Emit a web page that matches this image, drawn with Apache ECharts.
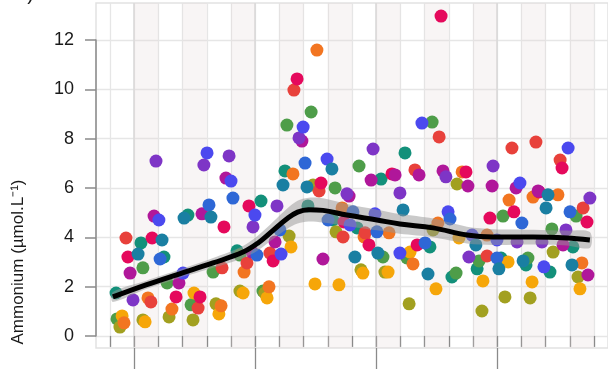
<!DOCTYPE html>
<html><head><meta charset="utf-8">
<script src="https://cdn.jsdelivr.net/npm/echarts@6/dist/echarts.min.js"></script>
<style>html,body{margin:0;padding:0;background:#fff}#c{width:608px;height:373px}</style>
</head><body><div id="c"></div>
<script>
// ---- data (x in sampling-interval units, y in µmol.L-1) ----
const red = [[0.66,3.97],[1.69,1.38],[3.64,1.13],[4.63,2.76],[5.66,2.96],[6.61,3.36],[7.60,9.97],[8.64,5.88],[9.63,4.01],[10.54,4.18],[12.60,6.73],[13.60,8.07],[15.58,3.24],[16.61,7.62],[17.60,7.86],[18.60,7.13],[19.55,5.19]];
const crimson = [[0.74,3.20],[1.74,3.97],[2.73,1.58],[3.72,1.58],[4.71,4.42],[5.74,5.27],[6.74,3.04],[7.73,10.42],[8.72,6.20],[9.67,4.62],[10.70,3.69],[11.65,6.57],[12.69,3.69],[13.68,12.97],[14.71,6.65],[15.70,4.78],[16.69,5.03],[17.73,5.84],[18.68,6.81],[19.71,4.62]];
const magenta = [[0.83,2.55],[1.82,4.86],[2.85,2.15],[3.80,4.95],[4.79,6.40],[5.87,3.40],[6.82,3.81],[7.93,7.90],[8.80,3.12],[9.88,5.67],[10.79,6.32],[11.78,6.53],[12.77,6.53],[13.76,6.69],[14.79,6.08],[15.79,6.08],[16.78,6.00],[17.69,5.88],[18.72,3.69],[19.75,2.47]];
const purple = [[0.95,1.46],[1.90,7.09],[3.88,6.93],[4.92,7.30],[5.91,4.42],[6.90,5.27],[7.81,8.03],[9.79,5.76],[10.87,7.58],[11.98,5.80],[13.88,6.45],[14.83,3.20],[15.83,6.89],[16.82,3.81],[17.85,3.81],[18.84,4.30],[19.83,5.59]];
const orange = [[0.58,0.53],[1.57,1.54],[2.56,1.09],[4.59,1.22],[5.54,2.59],[6.57,1.99],[7.56,6.57],[8.55,11.59],[9.59,5.19],[10.50,4.01],[11.53,4.18],[12.52,2.92],[13.55,4.58],[14.55,6.65],[15.58,4.09],[16.49,5.51],[17.48,5.63],[18.51,5.72],[19.50,2.96]];
const amber = [[0.50,0.81],[1.45,0.57],[3.47,1.74],[4.50,0.89],[5.50,1.74],[6.49,1.54],[7.48,3.61],[8.47,2.11],[9.46,2.07],[10.45,2.55],[11.49,2.59],[12.40,3.40],[13.47,1.91],[14.42,3.97],[15.41,2.23],[16.45,3.00],[17.44,2.19],[19.42,1.91]];
const olive = [[0.41,0.36],[1.36,0.65],[2.44,0.77],[3.43,0.65],[4.38,1.30],[5.37,1.82],[6.40,1.74],[7.40,4.05],[8.39,6.12],[9.34,4.22],[10.37,2.68],[11.36,2.59],[12.36,1.30],[13.35,4.30],[14.34,6.16],[15.37,1.01],[16.32,1.58],[17.36,1.54],[18.31,3.40],[19.34,2.39]];
const green = [[0.29,0.69],[1.36,2.76],[2.36,2.15],[3.35,1.26],[4.26,2.59],[5.37,3.28],[6.32,1.82],[7.31,8.55],[8.31,9.08],[9.30,6.00],[10.29,6.89],[11.28,3.20],[12.27,3.16],[13.31,8.67],[14.30,2.55],[15.25,3.04],[16.24,4.86],[17.27,3.16],[18.26,4.34],[19.26,4.86]];
const tealGreen = [[0.25,1.74],[1.28,3.77],[2.23,3.20],[3.22,4.90],[5.25,3.45],[6.24,5.47],[7.23,6.69],[8.18,5.27],[9.21,4.70],[10.21,4.38],[11.20,6.36],[12.19,7.42],[13.22,3.61],[14.13,2.39],[15.17,2.72],[16.16,3.16],[17.19,2.88],[18.18,2.59],[19.13,3.61]];
const tealBlue = [[1.16,3.32],[2.15,3.89],[3.06,4.78],[4.17,4.82],[7.15,6.12],[8.14,6.04],[9.17,6.77],[10.12,3.20],[11.07,3.36],[12.11,5.11],[13.14,2.51],[15.12,3.69],[16.07,2.72],[17.07,3.04],[18.02,5.19],[18.10,5.72],[19.09,2.88]];
const blue = [[2.02,4.70],[3.02,2.55],[4.01,7.42],[5.00,6.28],[5.99,4.90],[7.07,3.32],[7.98,8.47],[8.97,7.17],[9.92,4.50],[10.95,4.95],[11.98,3.36],[12.89,8.63],[13.97,5.03],[14.96,4.09],[15.99,3.89],[16.94,6.20],[17.93,2.80],[18.93,7.62]];
const blue2 = [[2.07,3.12],[4.09,5.31],[5.08,5.59],[6.07,3.28],[7.02,4.30],[8.06,7.01],[9.01,4.70],[10.04,5.03],[11.03,4.22],[13.02,3.77],[14.05,4.74],[15.99,3.16],[17.02,4.58],[19.01,5.03]];

// smoothed trend and its confidence band
const smoothX = [0.12,1.49,2.85,4.26,5.50,6.12,6.74,7.30,7.75,8.20,8.80,9.79,11.03,11.98,13.35,14.75,15.83,17.48,18.88,19.83];
const smoothY = [1.58,2.07,2.51,2.96,3.40,3.77,4.28,4.74,5.02,5.12,5.09,4.90,4.70,4.54,4.38,4.09,4.01,4.01,3.97,3.89];
const bandLow = [1.38,1.90,2.34,2.76,3.15,3.47,3.93,4.33,4.56,4.64,4.60,4.45,4.28,4.14,4.00,3.75,3.69,3.71,3.67,3.57];
const bandHigh= [1.78,2.24,2.68,3.16,3.65,4.07,4.63,5.15,5.48,5.60,5.58,5.35,5.12,4.94,4.76,4.43,4.33,4.31,4.27,4.21];

// shaded sampling intervals (start of each shaded interval)
const shadedStarts = [1,3,5,7,9,11,13,15,17,19];
const yTicks = [0,2,4,6,8,10,12];

const groups = [
  {name:'tealGreen', color:'#13907A', data:tealGreen},
  {name:'green', color:'#4E9D49', data:green},
  {name:'olive', color:'#A2A020', data:olive},
  {name:'amber', color:'#F6A609', data:amber},
  {name:'orange', color:'#F27521', data:orange},
  {name:'red', color:'#E8413B', data:red},
  {name:'crimson', color:'#E5095C', data:crimson},
  {name:'magenta', color:'#B0179A', data:magenta},
  {name:'purple', color:'#7E35C6', data:purple},
  {name:'blue', color:'#4B49EF', data:blue},
  {name:'blue2', color:'#2E67D6', data:blue2},
  {name:'tealBlue', color:'#1A7FA2', data:tealBlue}
];

const chart = echarts.init(document.getElementById('c'), null, {renderer:'canvas'});
const gridLine = '#e6e6e6';
const tickCol = '#8a8a8a';

const series = [];
series.push({
  type:'line', xAxisIndex:0, yAxisIndex:0, data:[], silent:true, z:1,
  markArea:{silent:true, itemStyle:{color:'rgba(228,215,215,0.26)'},
    data: shadedStarts.map(s=>[{xAxis:s},{xAxis:s+1}])}
});
groups.forEach(g=>{
  series.push({type:'scatter', name:g.name, xAxisIndex:0, yAxisIndex:0, data:g.data,
    symbolSize:13, itemStyle:{color:g.color, opacity:1}, z:2});
});
// confidence band as a polygon placed through the axes
series.push({
  type:'custom', xAxisIndex:0, yAxisIndex:0, silent:true, z:3,
  data:[[smoothX[0], bandLow[0]]],
  renderItem:function(params, api){
    const top = smoothX.map((x,i)=>api.coord([x, bandHigh[i]]));
    const bot = smoothX.map((x,i)=>api.coord([x, bandLow[i]])).reverse();
    return {type:'polygon', shape:{points: top.concat(bot), smooth:0.3},
      style:{fill:'rgba(150,150,150,0.5)', stroke:null}};
  }
});
series.push({type:'line', xAxisIndex:0, yAxisIndex:0, smooth:0.4, symbol:'none', silent:true,
  data: smoothX.map((x,i)=>[x,smoothY[i]]), lineStyle:{color:'#000', width:5}, z:4});

const option = {
  animation:false,
  backgroundColor:'#fff',
  grid:[
    {left:110, width:484, top:3, height:345},
    {left:96, right:0, top:40, height:296},
    {left:96, right:-3, top:3, height:345, show:true, borderColor:'#e2e2e2', borderWidth:1.5, backgroundColor:'transparent'},
    {left:134, width:363, top:3, height:345}
  ],
  xAxis:[
    {gridIndex:0, type:'value', min:0, max:20, interval:1, axisLine:{show:false},
      axisTick:{show:true, length:11, lineStyle:{color:tickCol, width:1.3}},
      axisLabel:{show:false}, splitLine:{show:true, lineStyle:{color:gridLine, width:1.3}}},
    {gridIndex:1, type:'value', min:0, max:1, show:false},
    {gridIndex:2, type:'value', min:0, max:1, show:false},
    {gridIndex:3, type:'value', min:0, max:15, interval:5, axisLine:{show:false},
      axisTick:{show:true, length:21, lineStyle:{color:tickCol, width:1.3}},
      axisLabel:{show:false}, splitLine:{show:true, lineStyle:{color:'#dadada', width:1.6}}}
  ],
  yAxis:[
    {gridIndex:0, type:'value', min:-0.49, max:13.5, show:false},
    {gridIndex:1, type:'value', min:yTicks[0], max:yTicks[yTicks.length-1], interval:2,
      axisLine:{show:true, lineStyle:{color:tickCol, width:1.5}},
      axisTick:{show:true, length:11, lineStyle:{color:tickCol, width:1.5}},
      axisLabel:{margin:22, color:'#1a1a1a', fontSize:18, fontFamily:'Liberation Sans, Arial, sans-serif'},
      splitLine:{show:true, lineStyle:{color:gridLine, width:1.3}}},
    {gridIndex:2, type:'value', min:0, max:1, show:false},
    {gridIndex:3, type:'value', min:0, max:1, show:false}
  ],
  graphic:[
    {type:'text', x:18, y:262, rotation:Math.PI/2,
      style:{text:'Ammonium (µmol.L⁻¹)', fill:'#1a1a1a', font:'17px "Liberation Sans", Arial, sans-serif',
        textAlign:'center', textVerticalAlign:'middle'}},
    {type:'text', x:34, y:4,
      style:{text:'b)', fill:'#1a1a1a', font:'20px "Liberation Sans", Arial, sans-serif',
        textAlign:'right', textVerticalAlign:'bottom'}}
  ],
  series: series
};
chart.setOption(option);
</script>
</body></html>
